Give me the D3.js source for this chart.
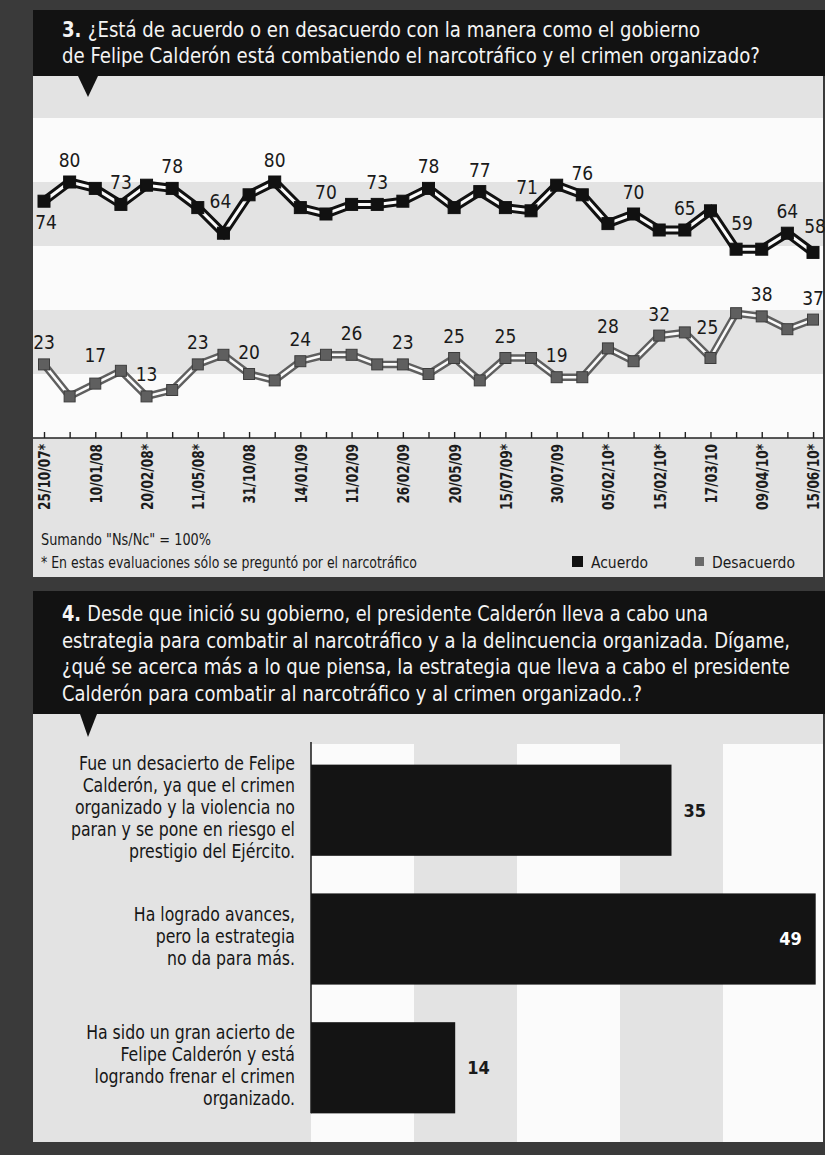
<!DOCTYPE html>
<html>
<head>
<meta charset="utf-8">
<script src="https://cdn.jsdelivr.net/npm/d3@7"></script>
<style>
  body { margin: 0; background: #3a3a3a; }
  svg { display: block; }
  text { font-family: "Liberation Sans Narrow", "DejaVu Sans Condensed", "Roboto", sans-serif; }
</style>
</head>
<body>
<div id="chart"></div>
<script>
// ---- data ----
var fechas = ["25/10/07*", "10/01/08", "20/02/08*", "11/05/08*", "31/10/08", "14/01/09", "11/02/09", "26/02/09",
              "20/05/09", "15/07/09*", "30/07/09", "05/02/10*", "15/02/10*", "17/03/10", "09/04/10*", "15/06/10*"];
var acuerdo =    [74, 80, 78, 73, 79, 78, 72, 64, 76, 80, 72, 70, 73, 73, 74, 78, 72, 77, 72, 71, 79, 76, 67, 70, 65, 65, 71, 59, 59, 64, 58];
var desacuerdo = [23, 13, 17, 21, 13, 15, 23, 26, 20, 18, 24, 26, 26, 23, 23, 20, 25, 18, 25, 25, 19, 19, 28, 24, 32, 33, 25, 39, 38, 34, 37];
// which points carry a printed value
var acuerdoEtiq = [0, 1, 3, 5, 7, 9, 11, 13, 15, 17, 19, 21, 23, 25, 27, 29, 30];
var desacuerdoEtiq = [0, 2, 4, 6, 8, 10, 12, 14, 16, 18, 20, 22, 24, 26, 28, 30];

var respuestas = [
  ["Fue un desacierto de Felipe", "Calderón, ya que el crimen", "organizado y la violencia no", "paran y se pone en riesgo el", "prestigio del Ejército."],
  ["Ha logrado avances,", "pero la estrategia", "no da para más."],
  ["Ha sido un gran acierto de", "Felipe Calderón y está", "logrando frenar el crimen", "organizado."]
];
var porcentajes = [35, 49, 14];

var titulo3 = ["¿Está de acuerdo o en desacuerdo con la manera como el gobierno",
               "de Felipe Calderón está combatiendo el narcotráfico y el crimen organizado?"];
var titulo4 = ["Desde que inició su gobierno, el presidente Calderón lleva a cabo una",
               "estrategia para combatir al narcotráfico y a la delincuencia organizada. Dígame,",
               "¿qué se acerca más a lo que piensa, la estrategia que lleva a cabo el presidente",
               "Calderón para combatir al narcotráfico y al crimen organizado..?"];
var notas = ["Sumando \"Ns/Nc\" = 100%", "* En estas evaluaciones sólo se preguntó por el narcotráfico"];

var W = 825, H = 1155;
var dark = "#121212", gris = "#e3e3e3", blanco = "#fbfbfb";

var svg = d3.select("#chart").append("svg").attr("width", W).attr("height", H);
svg.append("rect").attr("width", W).attr("height", H).attr("fill", "#3a3a3a");

// stretch/squeeze a text to a given width
function fit(sel, w) {
  sel.each(function() {
    var l = this.getComputedTextLength();
    if (Math.abs(l - w) > 1) d3.select(this).attr("textLength", w).attr("lengthAdjust", "spacingAndGlyphs");
  });
}
function squeeze(sel, k) {
  sel.each(function() {
    var l = this.getComputedTextLength();
    d3.select(this).attr("textLength", l * k).attr("lengthAdjust", "spacingAndGlyphs");
  });
}

// ================= chart 3 : lines =================
svg.append("rect").attr("x", 33).attr("y", 10).attr("width", 792).attr("height", 66).attr("fill", dark);
var tw3 = [638, 698];
titulo3.forEach(function(t, i) {
  var tx = svg.append("text").attr("x", 62).attr("y", 37 + i * 26)
    .attr("fill", "#f4f4f4").style("font-size", "21px");
  if (i == 0) tx.append("tspan").style("font-weight", "bold").text("3. ");
  tx.append("tspan").text(t);
  fit(tx, tw3[i]);
});

svg.append("rect").attr("x", 33).attr("y", 76).attr("width", 790).attr("height", 501).attr("fill", gris);

var x = d3.scaleLinear().domain([0, acuerdo.length - 1]).range([44, 813]);
var y = d3.scaleLinear().domain([0, 100]).range([438, 118]);

// white bands between gray ones
[[0, 20], [40, 60], [80, 100]].forEach(function(b) {
  svg.append("rect").attr("x", 33).attr("width", 790)
    .attr("y", y(b[1])).attr("height", y(b[0]) - y(b[1])).attr("fill", blanco);
});

svg.append("path").attr("d", "M78,76L98,76L88,97Z").attr("fill", dark);

// x axis
var xAxis = d3.axisTop(x).tickValues(d3.range(acuerdo.length)).tickSize(6).tickFormat("");
var gx = svg.append("g").attr("transform", "translate(0,438)").call(xAxis);
gx.select(".domain").attr("d", "M33,0H823").attr("stroke", "#222").attr("stroke-width", 1.6);
gx.selectAll(".tick line").attr("stroke", "#222").attr("stroke-width", 1.4);

fechas.forEach(function(f, i) {
  var t = svg.append("text")
    .attr("transform", "translate(" + (x(i * 2) + 1) + ",444) rotate(-90)")
    .attr("text-anchor", "end").attr("dy", "0.36em")
    .attr("fill", "#1c1c1c").style("font-size", "15px").style("font-weight", "bold")
    .text(f);
  squeeze(t, 0.9);
});

var line = d3.line().x(function(d, i) { return x(i); }).y(function(d) { return y(d); });

function serie(data, color, outer, inner, sq, sqStroke) {
  var g = svg.append("g");
  g.append("path").datum(data).attr("d", line).attr("fill", "none")
    .attr("stroke", color).attr("stroke-width", outer).attr("stroke-linejoin", "miter");
  g.append("path").datum(data).attr("d", line).attr("fill", "none")
    .attr("stroke", blanco).attr("stroke-width", inner).attr("stroke-linejoin", "miter");
  g.selectAll("rect").data(data).enter().append("rect")
    .attr("x", function(d, i) { return x(i) - sq / 2; })
    .attr("y", function(d) { return y(d) - sq / 2; })
    .attr("width", sq).attr("height", sq)
    .attr("fill", color).attr("stroke", sqStroke).attr("stroke-width", 1);
}
serie(desacuerdo, "#5f5f5f", 7.5, 2.6, 11, "#3c3c3c");
serie(acuerdo, "#111", 9, 3, 12, "#111");

// printed values
function valores(data, idx, tweaks) {
  svg.append("g").selectAll("text").data(idx).enter().append("text")
    .attr("x", function(i) { return x(i) + ((tweaks[i] || {}).dx || 0); })
    .attr("y", function(i) { return y(data[i]) + ((tweaks[i] || {}).dy || -15); })
    .attr("text-anchor", "middle").attr("fill", "#1a1a1a").style("font-size", "19px")
    .text(function(i) { return data[i]; });
}
valores(acuerdo, acuerdoEtiq, { 0: { dx: 2, dy: 28 }, 7: { dx: -3, dy: -25 }, 19: { dx: -4, dy: -17 },
                                27: { dx: 6, dy: -19 }, 30: { dx: 2, dy: -19 } });
valores(desacuerdo, desacuerdoEtiq, { 2: { dy: -22 }, 26: { dx: -3, dy: -24 } });

// notes & legend
notas.forEach(function(n, i) {
  var t = svg.append("text").attr("x", 41).attr("y", 545 + i * 23)
    .attr("fill", "#1a1a1a").style("font-size", "15px").text(n);
  fit(t, i == 0 ? 170 : 376);
});
svg.append("rect").attr("x", 572).attr("y", 556).attr("width", 11).attr("height", 11).attr("fill", "#111");
fit(svg.append("text").attr("x", 591).attr("y", 568).attr("fill", "#1a1a1a").style("font-size", "16px").text("Acuerdo"), 57);
svg.append("rect").attr("x", 695).attr("y", 557).attr("width", 9).attr("height", 9).attr("fill", "#6a6a6a");
fit(svg.append("text").attr("x", 712).attr("y", 568).attr("fill", "#1a1a1a").style("font-size", "16px").text("Desacuerdo"), 83);

// ================= chart 4 : bars =================
svg.append("rect").attr("x", 33).attr("y", 591).attr("width", 792).attr("height", 123).attr("fill", dark);
var tw4 = [646, 728, 728, 580];
titulo4.forEach(function(t, i) {
  var tx = svg.append("text").attr("x", 62).attr("y", 621 + i * 26.5)
    .attr("fill", "#f4f4f4").style("font-size", "21px");
  if (i == 0) tx.append("tspan").style("font-weight", "bold").text("4. ");
  tx.append("tspan").text(t);
  fit(tx, tw4[i]);
});

svg.append("rect").attr("x", 33).attr("y", 714).attr("width", 790).attr("height", 428).attr("fill", gris);
svg.append("path").attr("d", "M80,714L97,714L88,737Z").attr("fill", dark);

var xb = d3.scaleLinear().domain([0, 50]).range([311, 826]);
var yb = d3.scaleBand().domain(d3.range(porcentajes.length)).range([726, 1152])
  .paddingInner(0.292).paddingOuter(0.3);

[[0, 10], [20, 30], [40, 50]].forEach(function(b) {
  svg.append("rect").attr("x", xb(b[0])).attr("y", 744)
    .attr("width", Math.min(xb(b[1]), 823) - xb(b[0])).attr("height", 398).attr("fill", blanco);
});

svg.append("g").selectAll("rect").data(porcentajes).enter().append("rect")
  .attr("x", xb(0)).attr("y", function(d, i) { return yb(i); })
  .attr("width", function(d) { return xb(d) - xb(0); })
  .attr("height", yb.bandwidth()).attr("fill", "#141414");

svg.append("line").attr("x1", xb(0)).attr("x2", xb(0)).attr("y1", 742).attr("y2", yb(2) + yb.bandwidth())
  .attr("stroke", "#1a1a1a").attr("stroke-width", 1.5);

svg.append("g").selectAll("text").data(porcentajes).enter().append("text")
  .attr("x", function(d) { return xb(d) > 760 ? xb(d) - 14 : xb(d) + 12; })
  .attr("y", function(d, i) { return yb(i) + yb.bandwidth() / 2; })
  .attr("dy", "0.36em")
  .attr("text-anchor", function(d) { return xb(d) > 760 ? "end" : "start"; })
  .attr("fill", function(d) { return xb(d) > 760 ? "#fff" : "#1a1a1a"; })
  .style("font-size", "18px").style("font-weight", "bold")
  .text(function(d) { return d; });

respuestas.forEach(function(lines, i) {
  var cy = yb(i) + yb.bandwidth() / 2 - 3;
  var top = cy - (lines.length - 1) * 22 / 2;
  lines.forEach(function(l, j) {
    var t = svg.append("text").attr("x", 295).attr("y", top + j * 22).attr("dy", "0.36em")
      .attr("text-anchor", "end").attr("fill", "#161616").style("font-size", "19px").text(l);
    squeeze(t, 0.92);
  });
});
</script>
</body>
</html>
